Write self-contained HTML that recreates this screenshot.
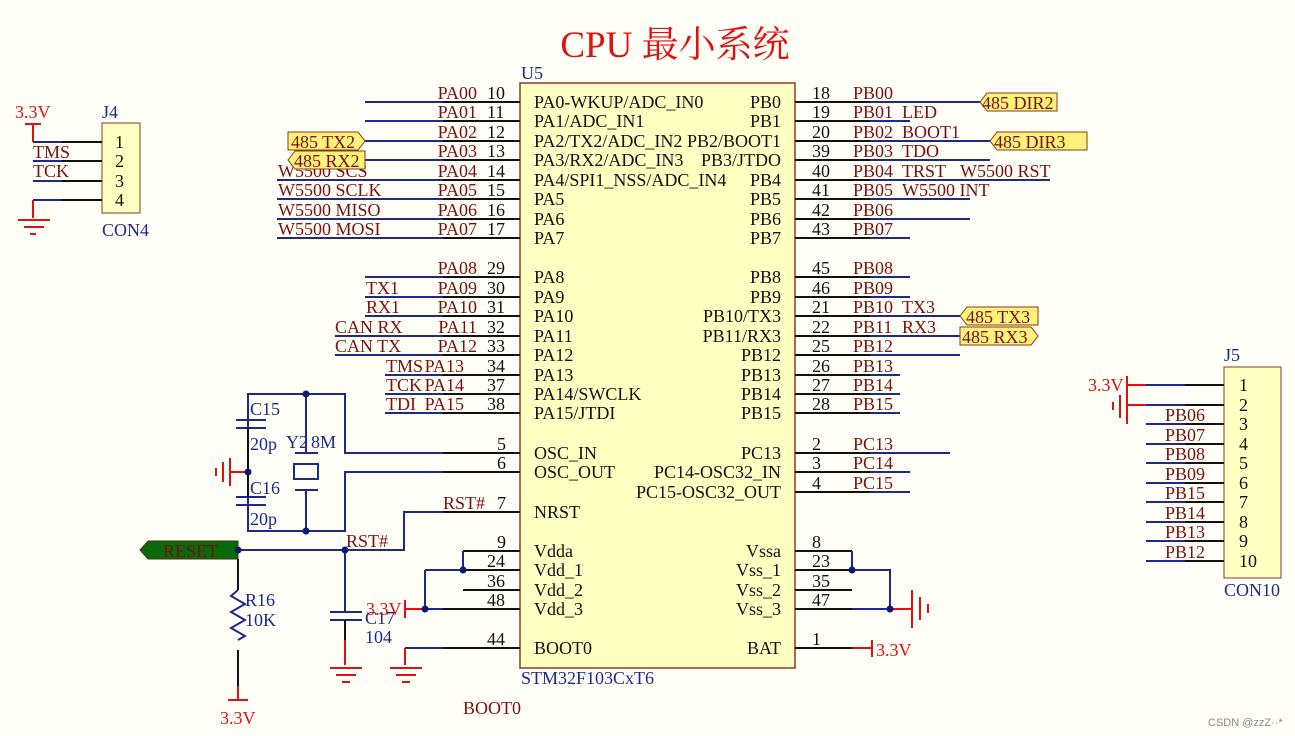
<!DOCTYPE html>
<html><head><meta charset="utf-8"><style>
html,body{margin:0;padding:0;background:#fffef7;}
svg{display:block;font-family:"Liberation Serif","Noto Serif CJK SC",serif;font-size:18px;}
.b{stroke:#1c2a8c;stroke-width:2;fill:none}
.k{stroke:#111;stroke-width:2;fill:none}
.r{stroke:#e01010;stroke-width:2;fill:none}
.n{fill:#7a1010}
.t{fill:#111}
.u{fill:#1c2a8c}
.rt{fill:#e01010}
.d{fill:#0c1a70}
</style></head><body>
<svg width="1295" height="736" viewBox="0 0 1295 736">
<text x="675" y="57" text-anchor="middle" font-size="37" class="rt">CPU 最小系统</text>
<rect x="520" y="83" width="275" height="585" fill="#ffffc2" stroke="#8a3a2a" stroke-width="1.5"/>
<text x="521" y="79" class="u">U5</text>
<text x="521" y="684" class="u">STM32F103CxT6</text>

<g class="k">
<path d="M443 102H520M443 121H520M443 141H520M443 160H520M443 180H520M443 199H520M443 219H520M443 238H520M443 277H520M443 297H520M443 316H520M443 336H520M443 355H520M443 375H520M443 394H520M443 413H520M443 453H520M443 472H520M443 512H520M463 551H520M443 570H520M463 590H520M443 609H520M443 648H520"/>
</g>
<g class="b">
<path d="M365 102H443M365 121H443M365 141H443M365 160H443M277 180H443M277 199H443M277 219H443M277 238H443M365 277H443M365 297H443M365 316H443M335 336H443M335 355H443M385 375H443M385 394H443M385 413H443"/>
<path d="M443 453H345V394H248V531H345V472H443"/>
<path d="M306 394V453M306 490V531"/>
<path d="M443 512H404V550H238"/>
<path d="M345 550V612"/>
<path d="M463 551V570M425 570H463M425 570V609H443"/>
<path d="M405 648H443"/>
</g>
<g class="t">
<text x="487" y="99">10</text><text x="487" y="118">11</text><text x="487" y="138">12</text><text x="487" y="157">13</text>
<text x="487" y="177">14</text><text x="487" y="196">15</text><text x="487" y="216">16</text><text x="487" y="235">17</text>
<text x="487" y="274">29</text><text x="487" y="294">30</text><text x="487" y="313">31</text><text x="487" y="333">32</text>
<text x="487" y="352">33</text><text x="487" y="372">34</text><text x="487" y="391">37</text><text x="487" y="410">38</text>
<text x="497" y="450">5</text><text x="497" y="469">6</text><text x="497" y="509">7</text>
<text x="497" y="548">9</text><text x="487" y="567">24</text><text x="487" y="587">36</text><text x="487" y="606">48</text><text x="487" y="645">44</text>
</g>
<g class="n" text-anchor="end">
<text x="477" y="99">PA00</text><text x="477" y="118">PA01</text><text x="477" y="138">PA02</text><text x="477" y="157">PA03</text>
<text x="477" y="177">PA04</text><text x="477" y="196">PA05</text><text x="477" y="216">PA06</text><text x="477" y="235">PA07</text>
<text x="477" y="274">PA08</text><text x="477" y="294">PA09</text><text x="477" y="313">PA10</text><text x="477" y="333">PA11</text>
<text x="477" y="352">PA12</text><text x="464" y="372">PA13</text><text x="464" y="391">PA14</text><text x="464" y="410">PA15</text>
<text x="485" y="509">RST#</text>
</g>
<g class="n">
<text x="278" y="177">W5500 SCS</text><text x="278" y="196">W5500 SCLK</text><text x="278" y="216">W5500 MISO</text><text x="278" y="235">W5500 MOSI</text>
<text x="366" y="294">TX1</text><text x="366" y="313">RX1</text><text x="335" y="333">CAN RX</text><text x="335" y="352">CAN TX</text>
<text x="386" y="372">TMS</text><text x="386" y="391">TCK</text><text x="386" y="410">TDI</text>
<text x="346" y="547">RST#</text><text x="463" y="714">BOOT0</text>
</g>
<g class="t">
<text x="534" y="108">PA0-WKUP/ADC_IN0</text><text x="534" y="127">PA1/ADC_IN1</text><text x="534" y="147">PA2/TX2/ADC_IN2</text><text x="534" y="166">PA3/RX2/ADC_IN3</text>
<text x="534" y="186">PA4/SPI1_NSS/ADC_IN4</text><text x="534" y="205">PA5</text><text x="534" y="225">PA6</text><text x="534" y="244">PA7</text>
<text x="534" y="283">PA8</text><text x="534" y="303">PA9</text><text x="534" y="322">PA10</text><text x="534" y="342">PA11</text>
<text x="534" y="361">PA12</text><text x="534" y="381">PA13</text><text x="534" y="400">PA14/SWCLK</text><text x="534" y="419">PA15/JTDI</text>
<text x="534" y="459">OSC_IN</text><text x="534" y="478">OSC_OUT</text><text x="534" y="518">NRST</text>
<text x="534" y="557">Vdda</text><text x="534" y="576">Vdd_1</text><text x="534" y="596">Vdd_2</text><text x="534" y="615">Vdd_3</text><text x="534" y="654">BOOT0</text>
</g>
<g class="t" text-anchor="end">
<text x="781" y="108">PB0</text><text x="781" y="127">PB1</text><text x="781" y="147">PB2/BOOT1</text><text x="781" y="166">PB3/JTDO</text>
<text x="781" y="186">PB4</text><text x="781" y="205">PB5</text><text x="781" y="225">PB6</text><text x="781" y="244">PB7</text>
<text x="781" y="283">PB8</text><text x="781" y="303">PB9</text><text x="781" y="322">PB10/TX3</text><text x="781" y="342">PB11/RX3</text>
<text x="781" y="361">PB12</text><text x="781" y="381">PB13</text><text x="781" y="400">PB14</text><text x="781" y="419">PB15</text>
<text x="781" y="459">PC13</text><text x="781" y="478">PC14-OSC32_IN</text><text x="781" y="498">PC15-OSC32_OUT</text>
<text x="781" y="557">Vssa</text><text x="781" y="576">Vss_1</text><text x="781" y="596">Vss_2</text><text x="781" y="615">Vss_3</text><text x="781" y="654">BAT</text>
</g>
<g class="k"><path d="M795 102H870M795 121H870M795 141H870M795 160H870M795 180H870M795 199H870M795 219H870M795 238H870M795 277H870M795 297H870M795 316H870M795 336H870M795 355H870M795 375H870M795 394H870M795 413H870M795 453H870M795 472H870M795 492H870M795 551H852M795 570H852M795 590H852M795 609H852M795 648H852"/></g>
<g class="b"><path d="M870 102H980M870 121H910M870 141H990M870 160H990M870 180H1050M870 199H970M870 219H970M870 238H910M870 277H910M870 297H910M870 316H960M870 336H960M870 355H960M870 375H900M870 394H900M870 413H900M870 453H950M870 472H910M870 492H910"/>
<path d="M852 551V570H890V609M852 609H890"/></g>
<g class="t">
<text x="812" y="99">18</text><text x="812" y="118">19</text><text x="812" y="138">20</text><text x="812" y="157">39</text>
<text x="812" y="177">40</text><text x="812" y="196">41</text><text x="812" y="216">42</text><text x="812" y="235">43</text>
<text x="812" y="274">45</text><text x="812" y="294">46</text><text x="812" y="313">21</text><text x="812" y="333">22</text>
<text x="812" y="352">25</text><text x="812" y="372">26</text><text x="812" y="391">27</text><text x="812" y="410">28</text>
<text x="812" y="450">2</text><text x="812" y="469">3</text><text x="812" y="489">4</text>
<text x="812" y="548">8</text><text x="812" y="567">23</text><text x="812" y="587">35</text><text x="812" y="606">47</text><text x="812" y="645">1</text>
</g>
<g class="n">
<text x="853" y="99">PB00</text><text x="853" y="118">PB01</text><text x="902" y="118">LED</text>
<text x="853" y="138">PB02</text><text x="902" y="138">BOOT1</text>
<text x="853" y="157">PB03</text><text x="902" y="157">TDO</text>
<text x="853" y="177">PB04</text><text x="902" y="177">TRST</text><text x="960" y="177">W5500 RST</text>
<text x="853" y="196">PB05</text><text x="902" y="196">W5500 INT</text>
<text x="853" y="216">PB06</text><text x="853" y="235">PB07</text>
<text x="853" y="274">PB08</text><text x="853" y="294">PB09</text>
<text x="853" y="313">PB10</text><text x="902" y="313">TX3</text>
<text x="853" y="333">PB11</text><text x="902" y="333">RX3</text>
<text x="853" y="352">PB12</text><text x="853" y="372">PB13</text><text x="853" y="391">PB14</text><text x="853" y="410">PB15</text>
<text x="853" y="450">PC13</text><text x="853" y="469">PC14</text><text x="853" y="489">PC15</text>
</g>
<g fill="#fff27a" stroke="#8a3a10" stroke-width="1">
<polygon points="288,132 358,132 365,141 358,150 288,150"/>
<polygon points="295,151 365,151 365,169 295,169 288,160"/>
<polygon points="987,93 1057,93 1057,111 987,111 980,102"/>
<polygon points="997,132 1087,132 1087,150 997,150 990,141"/>
<polygon points="967,307 1038,307 1038,325 967,325 960,316"/>
<polygon points="960,327 1031,327 1038,336 1031,345 960,345"/>
</g>
<g class="n">
<text x="291" y="148">485 TX2</text><text x="294" y="167">485 RX2</text>
<text x="982" y="109">485 DIR2</text><text x="994" y="148">485 DIR3</text>
<text x="966" y="323">485 TX3</text><text x="962" y="343">485 RX3</text>
</g>
<polygon points="148,541 238,541 238,559 148,559 140,550" fill="#0a6a0a" stroke="#3a3a10"/>
<text x="163" y="557" class="n">RESET</text>
<g class="b">
<path d="M236 420H266M236 428H266M236 497H266M236 505H266"/>
<path d="M295 453H318M294 464H318V479H294ZM295 490H318"/>
<path d="M330 612H362M330 620H362"/>
</g>
<g class="k"><path d="M248 428V497"/><path d="M238 559V590M238 650V686M345 620V640"/></g>
<path d="M238 590l-7 6 14 8-14 8 14 8-14 8 14 8-7 4" class="b"/>
<g>
<text x="250" y="415" class="u">C15</text><text x="250" y="450" class="u">20p</text>
<text x="286" y="448" class="u">Y2</text><text x="311" y="448" class="u">8M</text>
<text x="250" y="494" class="u">C16</text><text x="250" y="525" class="u">20p</text>
<text x="245" y="606" class="u">R16</text><text x="245" y="626" class="u">10K</text>
<text x="365" y="624" class="u">C17</text><text x="365" y="643" class="u">104</text>
</g>
<g class="r">
<path d="M230 472H248M230 458V486M223 462V482M216 468V476"/>
<path d="M238 686V700M228 700H248"/>
<path d="M345 640V665M330 668H362M336 675H356M342 682H350"/>
<path d="M405 648V665M390 668H422M396 675H416M402 682H410"/>
<path d="M405 600V618M405 609H425"/>
<path d="M890 609H912M912 590V628M920 597V620M928 604V613"/>
<path d="M852 648H872M872 640V657"/>
</g>
<g class="rt"><text x="220" y="724">3.3V</text><text x="366" y="615">3.3V</text><text x="876" y="656">3.3V</text></g>
<g class="d">
<circle cx="306" cy="394" r="3.5"/><circle cx="306" cy="531" r="3.5"/><circle cx="248" cy="472" r="3.5"/>
<circle cx="238" cy="550" r="3.5"/><circle cx="345" cy="550" r="3.5"/>
<circle cx="463" cy="570" r="3.5"/><circle cx="425" cy="609" r="3.5"/>
<circle cx="852" cy="570" r="3.5"/><circle cx="890" cy="609" r="3.5"/>
</g>
<rect x="102" y="123" width="38" height="90" fill="#ffffc2" stroke="#8a3a2a"/>
<text x="102" y="118" class="u">J4</text><text x="102" y="236" class="u">CON4</text>
<g class="k"><path d="M62 142H102M62 161H102M62 181H102M62 200H102"/></g>
<g class="b"><path d="M33 142H62M33 161H62M33 181H62M33 200H62"/></g>
<g class="t"><text x="115" y="148">1</text><text x="115" y="167">2</text><text x="115" y="187">3</text><text x="115" y="206">4</text></g>
<g class="n"><text x="33" y="158">TMS</text><text x="33" y="177">TCK</text></g>
<g class="r"><path d="M33 142V124M25 124H41M33 200V218M18 220H50M24 227H44M30 234H36"/></g>
<text x="15" y="118" class="rt">3.3V</text>
<rect x="1224" y="367" width="57" height="211" fill="#ffffc2" stroke="#8a3a2a"/>
<text x="1224" y="361" class="u">J5</text><text x="1224" y="596" class="u">CON10</text>
<g class="k"><path d="M1185 385H1224M1185 405H1224M1185 424H1224M1185 444H1224M1185 463H1224M1185 483H1224M1185 502H1224M1185 522H1224M1185 541H1224M1185 561H1224"/></g>
<g class="b"><path d="M1146 385H1185M1146 405H1185M1146 424H1185M1146 444H1185M1146 463H1185M1146 483H1185M1146 502H1185M1146 522H1185M1146 541H1185M1146 561H1185"/></g>
<g class="t"><text x="1239" y="391">1</text><text x="1239" y="411">2</text><text x="1239" y="430">3</text><text x="1239" y="450">4</text><text x="1239" y="469">5</text><text x="1239" y="489">6</text><text x="1239" y="508">7</text><text x="1239" y="528">8</text><text x="1239" y="547">9</text><text x="1239" y="567">10</text></g>
<g class="n"><text x="1165" y="421">PB06</text><text x="1165" y="441">PB07</text><text x="1165" y="460">PB08</text><text x="1165" y="480">PB09</text><text x="1165" y="499">PB15</text><text x="1165" y="519">PB14</text><text x="1165" y="538">PB13</text><text x="1165" y="558">PB12</text></g>
<g class="r"><path d="M1127 385H1146M1127 376V394M1127 405H1146M1127 388V424M1120 395V418M1113 402V410"/></g>
<text x="1088" y="391" class="rt">3.3V</text>
<text x="1208" y="726" font-family="Liberation Sans,sans-serif" font-size="11" fill="#888">CSDN @zzZ··*</text>
</svg>
</body></html>
